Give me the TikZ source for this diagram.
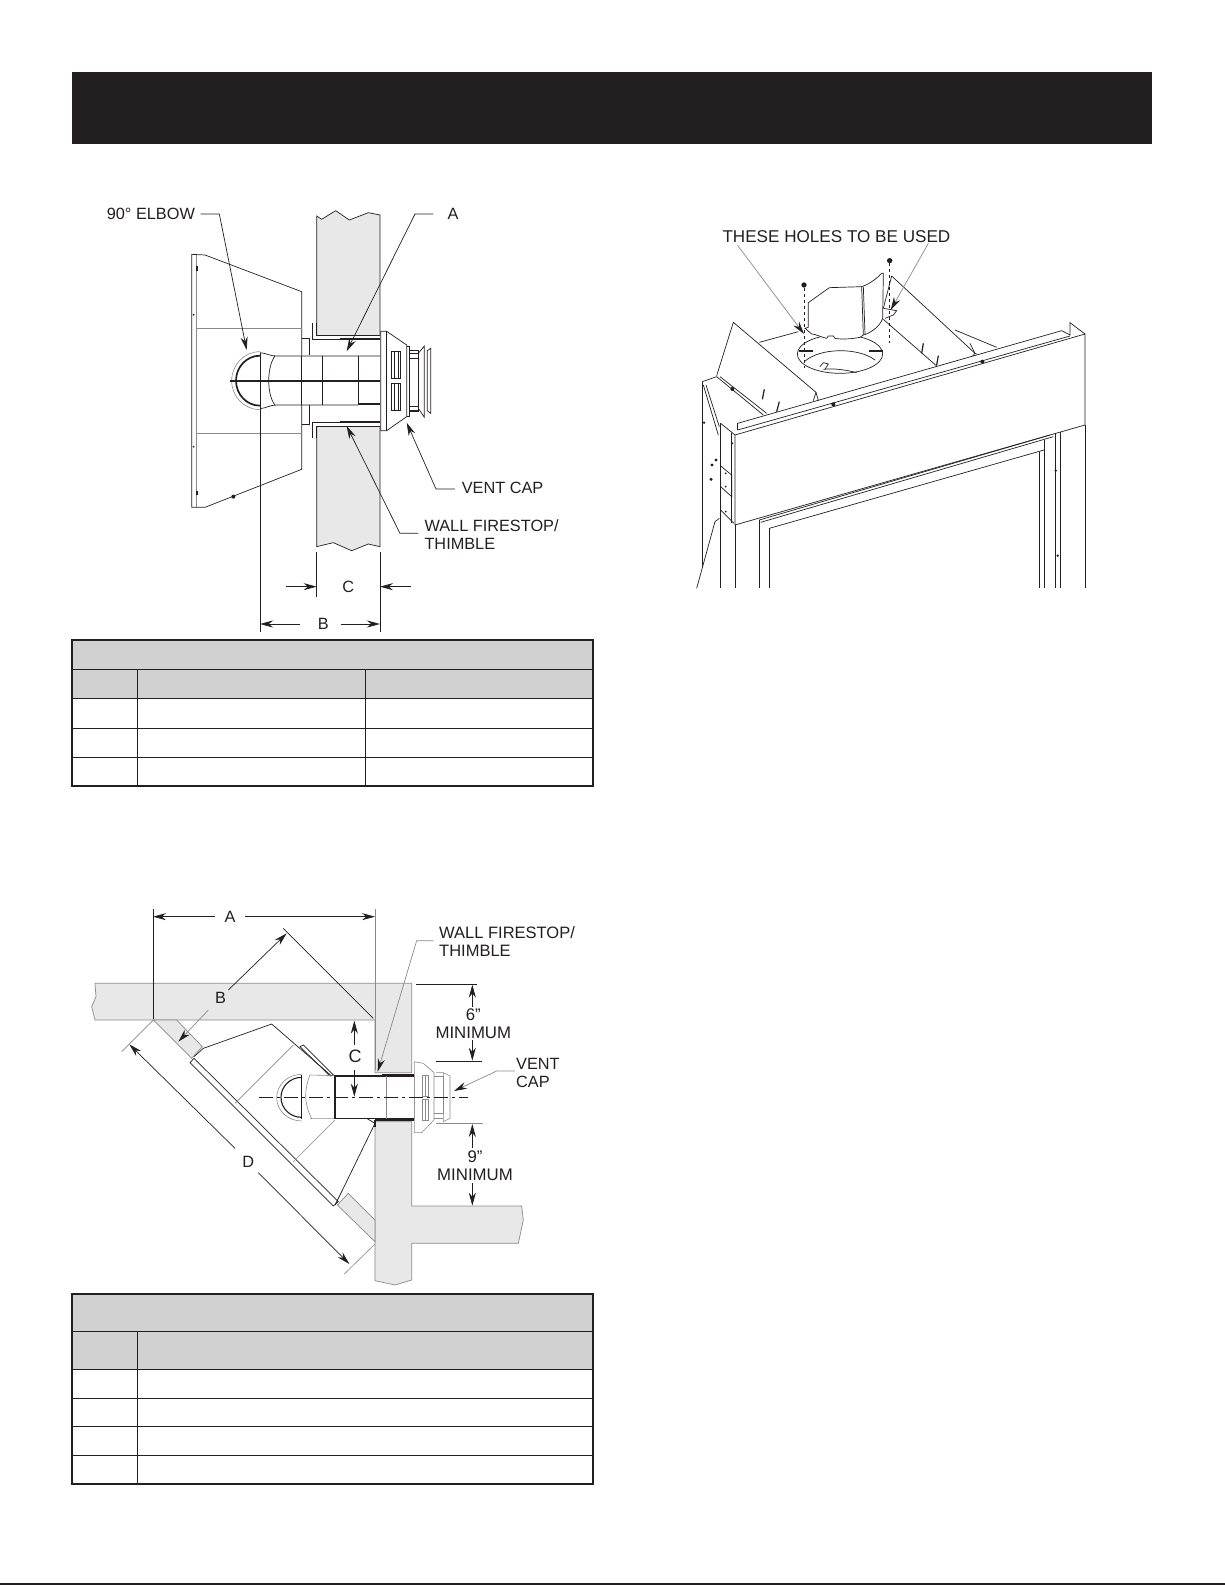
\documentclass[tikz,border=0pt]{standalone}
\usepackage{fontspec}
\setmainfont{Liberation Sans}
\usetikzlibrary{arrows.meta}
\definecolor{ink}{HTML}{231F20}
\definecolor{tabgray}{HTML}{D1D1D1}
\definecolor{wallgray}{HTML}{E8E8E8}
\definecolor{softline}{HTML}{8A8A8A}
\tikzset{
  lbl/.style={anchor=west,inner sep=0pt,font=\fontsize{16.3}{18}\selectfont,text=ink},
  ctr/.style={inner sep=0pt,font=\fontsize{16.3}{18}\selectfont,text=ink},
  line/.style={draw=ink,line width=0.7pt},
  thin line/.style={draw=softline,line width=0.6pt},
  heavy/.style={draw=ink,line width=1.7pt},
  wall/.style={fill=wallgray,draw=softline,line width=0.7pt},
  lead/.style={draw=ink,line width=0.7pt,-{Stealth[length=13pt,width=7pt]}},
  softlead/.style={draw=softline,line width=0.7pt,-{Stealth[length=13pt,width=7pt,color=ink]}},
  tab/.style={draw=ink,line width=1.2pt},
  tabin/.style={draw=ink,line width=0.9pt},
  zoomed/.style={x=0.33333pt,y=-0.33333pt}
}
\begin{document}
\begin{tikzpicture}[x=1pt,y=-1pt]
\useasboundingbox (0,0) rectangle (1225,1585);
% header and bottom rule
\fill[ink] (72,72) rectangle (1152,144);
\fill[ink] (0,1583) rectangle (1225,1585);
% table 1
\fill[tabgray] (72,640) rectangle (593,698.5);
\draw[tabin] (72,669.5)--(593,669.5) (72,698.5)--(593,698.5) (72,728)--(593,728) (72,757)--(593,757);
\draw[tabin] (137.5,669.5)--(137.5,786) (365,669.5)--(365,786);
\draw[tab] (72,640) rectangle (593,786);
% table 2
\fill[tabgray] (72,1294) rectangle (593,1369);
\draw[tabin] (72,1331)--(593,1331) (72,1369)--(593,1369) (72,1398)--(593,1398) (72,1426.5)--(593,1426.5) (72,1455.5)--(593,1455.5);
\draw[tabin] (137.5,1331)--(137.5,1484);
\draw[tab] (72,1294) rectangle (593,1484);

% ===== figure 1 =====
\begin{scope}[shift={(90,190)},zoomed]
\path[wall,draw=none] (680,78)--(695,88)--(737,62)--(778,90)--(835,68)--(870,75)--(870,435)--(680,435)--cycle;
\path[wall,draw=none] (680,708)--(870,708)--(870,1070)--(835,1062)--(785,1082)--(730,1058)--(680,1070)--cycle;
\draw[line] (680,435)--(680,78)--(695,88)--(737,62)--(778,90)--(835,68)--(870,75)--(870,435);
\draw[line] (680,708)--(680,1070)--(730,1058)--(785,1082)--(835,1062)--(870,1070)--(870,708);
% fireplace box
\draw[line] (305,193)--(345,195)--(635,305)--(635,838)--(345,952)--(305,952)--cycle;
\draw[thin line] (318,195)--(318,950);
\draw[thin line] (318,415)--(635,415) (318,730)--(635,730);
\draw[line] (635,445)--(658,445)--(658,495) (658,645)--(658,702)--(635,702);
\draw[heavy] (321,228)--(321,242) (321,902)--(321,916);
\fill[ink] (311,374) circle (3) (311,770) circle (3) (430,920) circle (6);
% pipe
\fill[white] (555,498) rectangle (870,645);
\draw[line] (510,488)..controls (530,490) and (540,498)..(560,498)--(870,498);
\draw[line] (510,656)..controls (530,654) and (540,645)..(560,645)--(805,645);
\draw[heavy] (805,642)--(870,642);
\draw[line] (698,498)--(698,645) (805,498)--(805,642);
\draw[line] (635,498)--(635,645);
\draw[line] (555,498)..controls (530,530) and (530,615)..(555,645);
\draw[thin line] (510,485)arc[start angle=270,end angle=90,x radius=85,y radius=87];
\draw[heavy] (510,497)arc[start angle=270,end angle=90,x radius=72,y radius=75];
\draw[heavy] (420,572)--(870,572);
% thimble
\draw[line] (680,400)--(680,435)--(870,435);
\draw[line,line width=1.1pt] (667,400)--(667,448)--(750,448);
\draw[heavy] (750,448)--(870,448);
\draw[line,line width=1.1pt] (667,745)--(667,698)--(750,698);
\draw[heavy] (750,695)--(870,695);
\draw[line] (680,745)--(680,708)--(870,708);
% cap
\draw[line,fill=white] (872,424)--(890,424)--(950,465)--(950,680)--(890,722)--(872,722)--cycle;
\draw[line] (890,424)--(890,722);
\draw[line] (905,485) rectangle (932,565) (905,580) rectangle (932,660);
\draw[line] (912,485)--(912,565) (912,580)--(912,660) (925,485)--(925,565) (925,580)--(925,660);
\draw[line] (950,470)--(958,470)--(958,680)--(950,680);
\draw[line] (958,480) rectangle (985,665);
\draw[line] (958,490)--(985,490) (958,505)--(985,505) (958,650)--(985,650) (958,660)--(985,660);
\draw[line] (985,490)--(1003,468)--(1003,682)--(985,655);
\draw[line] (1012,482)--(1022,475)--(1022,670)--(1012,662)--cycle;
% labels and leaders
\node[lbl] (elbow1) at (50,72) {90° ELBOW};
\node[lbl] (a1) at (1072,72) {A};
\node[lbl] (cap1) at (1115,895) {VENT CAP};
\node[lbl,align=left] (fire1) at (1003,1035) {WALL FIRESTOP/\\THIMBLE};
\node[ctr] (c1) at (775,1190) {C};
\node[ctr] (b1) at (700,1302) {B};
\coordinate (elbowTip) at (470,480);
\coordinate (aTip) at (770,484);
\coordinate (capTip) at (950,698);
\coordinate (fireTip) at (770,708);
\draw[lead] (332,72) -- (388,72) -- (elbowTip);
\draw[lead] (1030,72) -- (975,72) -- (aTip);
\draw[lead] (1095,897) -- (1038,897) -- (capTip);
\draw[lead] (985,1030) -- (930,1030) -- (fireTip);
% dimensions
\draw[line] (680,1087)--(680,1222) (870,1087)--(870,1325) (510,490)--(510,1325);
\coordinate (cL) at (680,1190); \coordinate (cR) at (870,1190);
\coordinate (bL) at (510,1302); \coordinate (bR) at (870,1302);
\draw[lead] (588,1190)--(cL);
\draw[lead] (962,1190)--(cR);
\draw[lead] (630,1302)--(bL);
\draw[lead] (752,1302)--(bR);
\end{scope}

% ===== figure 2 =====
\begin{scope}[shift={(80,890)},zoomed]
\path[wall] (45,280)--(995,280)--(995,548)--(905,548)--(885,548)--(885,390)--(45,390)--(35,350)--(48,320)--cycle;
\path[wall] (885,695)--(995,695)--(995,948)--(1325,948)--(1330,990)--(1315,1060)--(995,1060)--(995,1170)--(945,1185)--(885,1172)--cycle;
\path[wall] (220,390)--(290,390)--(367,470)--(335,505)--cycle;
\path[wall] (805,910)--(885,990)--(885,1055)--(772,945)--cycle;
% fireplace
\draw[line] (330,518)--(342,505)--(775,935)--(760,948)--cycle;
\draw[line] (342,500)--(370,475)--(575,402)--(755,558);
\draw[line] (765,945)--(785,905)--(885,700);
\draw[line] (885,700)--(860,685);
\draw[thin line] (465,640)--(640,465) (640,815)--(765,690);
\draw[line] (660,470)--(670,465)--(760,555)--(750,558)--cycle;
% elbow and pipe
\draw[thin line] (690,555)--(765,557) (690,686)--(765,686);
\draw[line] (665,555)--(665,688);
\draw[thin line] (690,555)..controls (672,600) and (672,640)..(695,686);
\draw[thin line] (665,553)arc[start angle=270,end angle=90,x radius=75,y radius=70];
\draw[line,line width=1.1pt] (665,562)arc[start angle=270,end angle=90,x radius=62,y radius=60];
\draw[line,line width=1.1pt,fill=white] (765,558)rectangle(1003,686);
\draw[thin line] (920,558)--(920,686);
\draw[line,line width=0.9pt] (905,552)--(1003,552);
\draw[heavy] (885,690)--(1003,690) (885,690)--(885,712);
% cap
\begin{scope}[every path/.style={thin line}]
\draw[fill=white] (1003,515)--(1030,520)--(1062,548)--(1062,690)--(1025,728)--(1003,728)--cycle;
\draw (1028,555) rectangle (1045,618) (1028,628) rectangle (1045,690) (1036,555)--(1036,618) (1036,628)--(1036,690);
\draw (1062,560)--(1090,560)--(1090,670)--(1062,670);
\draw (1068,548)--(1090,548) (1090,548)--(1110,558)--(1110,685)--(1090,695)--cycle;
\draw (1062,685)--(1090,685);
\end{scope}
\draw[draw=ink,line width=0.9pt,dash pattern=on 14pt off 4pt on 3pt off 4pt] (538,622)--(1165,622);
% labels
\node[ctr] (a2) at (450,82) {A};
\node[ctr] (b2) at (422,325) {B};
\node[ctr,font=\fontsize{18}{18}\selectfont] (c2) at (825,500) {C};
\node[ctr] (d2) at (505,815) {D};
\node[lbl,align=left,font=\fontsize{16.5}{18}\selectfont] (fire2) at (1077,156) {WALL FIRESTOP/\\THIMBLE};
\node[ctr,align=center,font=\fontsize{16.8}{18}\selectfont] (six) at (1180,400) {6”\\MINIMUM};
\node[ctr,align=center,font=\fontsize{16.8}{18}\selectfont] (nine) at (1185,828) {9”\\MINIMUM};
\node[lbl,align=left] (cap2) at (1308,548) {VENT\\CAP};
% dimension lines
\coordinate (aL) at (219,80); \coordinate (aR) at (885,80);
\draw[line,line width=0.9pt] (219,58)--(219,388);
\draw[thin line] (885,58)--(885,540);
\draw[lead] (405,80)--(aL);
\draw[lead] (495,80)--(aR);
\coordinate (bU) at (620,130); \coordinate (bD) at (295,455);
\draw[line] (610,115)--(880,385);
\draw[lead] (445,300)--(bU);
\draw[softlead] (385,360)--(bD);
\coordinate (dU) at (148,463); \coordinate (dD) at (808,1122);
\draw[thin line] (220,390)--(125,485) (885,1062)--(793,1152);
\draw[lead] (465,775)--(dU);
\draw[lead] (535,848)--(dD);
\coordinate (cU) at (823,392); \coordinate (cD) at (823,620);
\draw[lead] (823,465)--(cU);
\draw[lead] (823,540)--(cD);
\coordinate (fireTipB) at (893,545);
\draw[softlead] (1060,152)--(1010,152)--(fireTipB);
\draw[line,line width=0.9pt] (1008,282)--(1192,282) (1068,513)--(1207,513);
\draw[thin line] (1068,700)--(1210,700);
\coordinate (sixU) at (1177,284); \coordinate (sixD) at (1177,512);
\coordinate (nineU) at (1177,702); \coordinate (nineD) at (1177,947);
\draw[lead] (1177,350)--(sixU);
\draw[lead] (1177,450)--(sixD);
\draw[lead] (1177,775)--(nineU);
\draw[lead] (1177,880)--(nineD);
\coordinate (capTipB) at (1122,603);
\draw[softlead] (1305,543)--(1250,543)--(capTipB);
\end{scope}

% ===== figure 3 =====
\begin{scope}[shift={(680,210)},zoomed]
% front fascia
\draw[line] (165,675)--(1215,372)--(1215,645) (165,675)--(165,945)--(1215,645);
\draw[line] (173,640)--(1145,362)--(1170,375)--(1170,338)--(1215,372);
\draw[line] (173,640)--(173,660);
\draw[line] (173,660)--(1170,378);
\draw[line] (122,640)--(165,675);
% flaps
\draw[line] (110,497)--(160,337)--(408,547)--(415,572);
\draw[line] (400,572)--(408,547);
\draw[line] (635,198)--(885,430)--(890,432);
\draw[line] (610,295)--(635,198);
\draw[line] (825,360)--(950,412);
\draw[line] (870,400)--(885,430)--(878,438);
\draw[line] (238,397)--(355,365);
\draw[line] (610,328)--(770,468);
\draw[line,line width=1.2pt] (730,400)--(725,430) (775,437)--(770,465) (253,538)--(247,568) (298,575)--(290,605);
% hole
\draw[line] (480,432) ellipse [x radius=128,y radius=58];
\draw[line] (373,455)..controls (420,412) and (535,412)..(585,450);
\draw[line] (430,478)..controls (460,474) and (500,480)..(530,488);
\draw[line] (420,470)--(430,458)--(445,462)--(435,478);
\draw[heavy,line width=2pt] (356,422)--(398,422) (568,422)--(608,422);
% pipe
\draw[line,fill=white] (375,355)--(385,352)--(385,278)--(448,233)--(545,230)..controls (570,222) and (590,205)..(605,190)--(610,190)--(608,325)..controls (600,350) and (570,370)..(550,375)--(540,382)..controls (510,388) and (480,388)..(465,385)--(460,378)--(445,378)--(440,385)..controls (420,380) and (405,372)..(395,372)--cycle;
\draw[line] (545,230)--(550,375) (550,230)--(555,373);
\draw[line,fill=white] (610,295)--(650,302)--(640,315)--(615,325);
% screws
\fill[ink] (372,225) circle (8);
\fill[ink] (629,152) circle (8);
\draw[line,dashed] (372,235)--(372,475);
\draw[line,dashed] (629,160)--(629,400);
% left side
\draw[line] (67,515)--(110,500)--(250,615);
\draw[line] (120,500)--(260,610);
\draw[line] (67,515)--(67,1075);
\draw[line] (70,525)--(115,675) (78,525)--(118,650);
\draw[line] (122,640)--(122,1135);
\draw[line] (155,670)--(155,940);
\draw[line] (122,768)--(155,795)--(155,860)--(122,830);
\draw[line] (122,900)--(162,940);
\draw[line] (165,945)--(165,1135);
\draw[line] (118,925)--(105,935)--(50,1135);
\fill[ink] (108,750) circle (5) (96,765) circle (5) (93,808) circle (5) (72,638) circle (4) (157,537) circle (6) (460,583) circle (6) (907,455) circle (6) (137,790) circle (3) (137,830) circle (3) (137,905) circle (3) (157,700) circle (3);
% firebox frame
\draw[line] (238,930)--(1110,675);
\draw[line] (242,937)--(1120,680);
\draw[line] (268,955)--(1092,720);
\draw[line] (238,930)--(238,1135) (268,955)--(268,1135);
\draw[line] (1078,725)--(1078,1135) (1092,690)--(1092,1135) (1125,670)--(1125,1135) (1140,665)--(1140,1135) (1215,645)--(1215,1135);
\fill[ink] (1127,782) circle (4) (1133,1037) circle (4);
\node[lbl,font=\fontsize{17.1}{18}\selectfont] (holes) at (127,80) {THESE HOLES TO BE USED};
\coordinate (hTipL) at (372,372);
\coordinate (hTipR) at (632,300);
\draw[softlead] (172,105)--(hTipL);
\draw[softlead] (745,100)--(hTipR);
\end{scope}
\end{tikzpicture}
\end{document}
